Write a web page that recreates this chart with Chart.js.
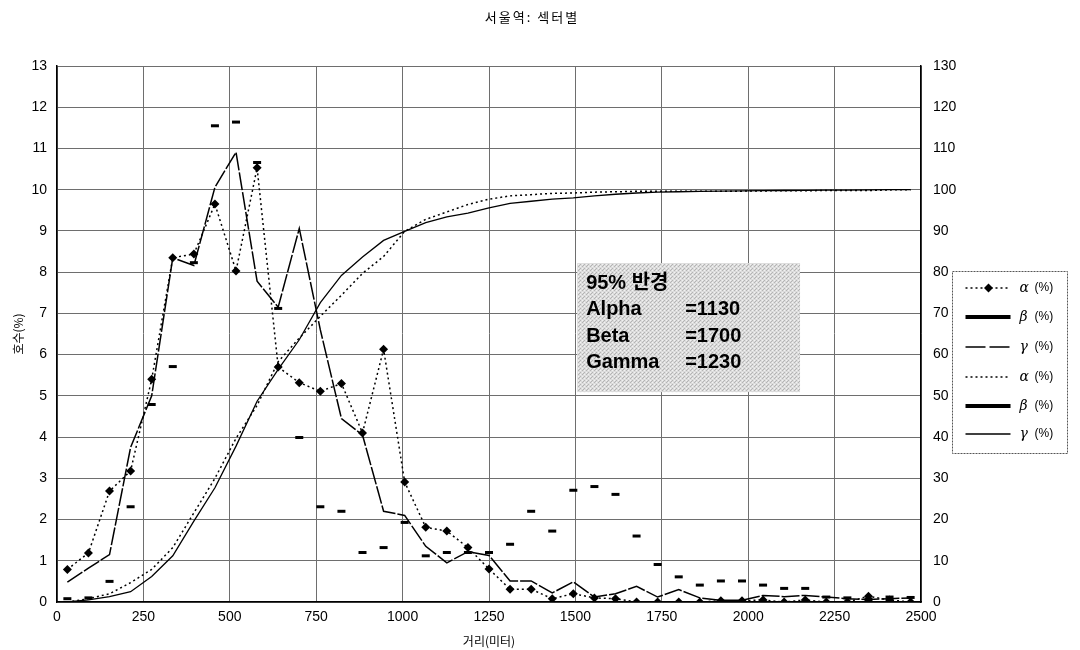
<!DOCTYPE html>
<html>
<head>
<meta charset="utf-8">
<script src="https://cdn.jsdelivr.net/npm/chart.js@4.4.0/dist/chart.umd.min.js"></script>
<style>
html, body { margin: 0; padding: 0; background: #fff; }
#wrap { width: 1080px; height: 650px; }
</style>
</head>
<body>
<div id="wrap"><canvas id="chart" width="1080" height="650"></canvas></div>
<script>
// sector midpoints (m)
var distance = [30, 91, 152, 213, 274, 335, 396, 457, 518, 579, 640, 701, 762, 823, 884, 945, 1006,
    1067, 1128, 1189, 1250, 1311, 1372, 1433, 1494, 1555, 1616, 1677, 1738, 1799, 1860, 1921, 1982,
    2043, 2104, 2165, 2226, 2287, 2348, 2409, 2470];

// share of households per sector (%), left axis
var alphaPct = [0.79, 1.19, 2.69, 3.18, 5.40, 8.35, 8.44, 9.65, 8.03, 10.53, 5.70, 5.32, 5.11, 5.30,
    4.10, 6.13, 2.91, 1.81, 1.72, 1.32, 0.80, 0.31, 0.31, 0.08, 0.20, 0.10, 0.08, 0, 0, 0, 0, 0.03,
    0.03, 0.05, 0, 0.05, 0, 0, 0.14, 0.05, 0];
var betaPct = [0.08, 0.10, 0.50, 2.31, 4.79, 5.71, 8.23, 11.55, 11.64, 10.66, 7.12, 3.99, 2.31, 2.20,
    1.20, 1.32, 1.93, 1.12, 1.20, 1.20, 1.20, 1.40, 2.20, 1.72, 2.71, 2.80, 2.61, 1.60, 0.91, 0.61,
    0.41, 0.51, 0.51, 0.41, 0.33, 0.33, 0.12, 0.10, 0.06, 0.12, 0.11];
var gammaPct = [0.48, 0.82, 1.15, 3.75, 5.00, 8.35, 8.16, 10.06, 10.91, 7.78, 7.15, 9.06, 6.60, 4.45,
    4.05, 2.20, 2.10, 1.35, 0.95, 1.22, 1.13, 0.51, 0.51, 0.22, 0.49, 0.12, 0.20, 0.38, 0.12, 0.30,
    0.10, 0.04, 0.04, 0.16, 0.13, 0.16, 0.12, 0.08, 0.06, 0.08, 0.10];

// cumulative share (%), right axis
var alphaCum = [0, 0.8, 2.0, 4.7, 7.9, 13.2, 21.6, 30.0, 39.7, 47.7, 58.3, 64.0, 69.3, 74.4, 79.7,
    83.8, 89.9, 92.8, 94.6, 96.4, 97.7, 98.5, 98.8, 99.1, 99.2, 99.4, 99.5, 99.6, 99.6, 99.6, 99.6,
    99.6, 99.65, 99.7, 99.75, 99.75, 99.8, 99.8, 99.8, 99.95, 100];
var gammaCum = [0, 0.5, 1.3, 2.5, 6.2, 11.2, 19.6, 27.7, 37.8, 48.7, 56.4, 63.6, 72.6, 79.2, 83.7,
    87.7, 89.9, 92.0, 93.4, 94.3, 95.6, 96.7, 97.2, 97.7, 98.0, 98.5, 98.9, 99.2, 99.4, 99.5, 99.6,
    99.65, 99.7, 99.75, 99.8, 99.85, 99.9, 99.9, 99.95, 100, 100];

var legendNames = ['α', 'β', 'γ', 'α', 'β', 'γ'];
var noteNames = ['95% 반경', 'Alpha', 'Beta', 'Gamma'];
var noteValues = ['', '=1130', '=1700', '=1230'];

var TICKFONT = { family: '"Liberation Sans", Arial, sans-serif', size: 14 };
var KRFONT = '"Noto Sans CJK KR", sans-serif';
var GRIDCOLOR = '#6e6e6e';

function toPoints(values) {
    var pts = [];
    for (var i = 0; i < values.length; i++) {
        pts.push({ x: distance[i], y: values[i] });
    }
    return pts;
}

// legend line styles: dash, width, marker
var legendStyles = [
    { dash: [2, 3], width: 1.5, diamond: true },
    { dash: [], width: 4 },
    { dash: [20, 4], width: 1.5 },
    { dash: [2, 3], width: 1.5 },
    { dash: [], width: 4 },
    { dash: [], width: 1.3 }
];

function stipple(ctx) {
    var pc = document.createElement('canvas');
    pc.width = 4; pc.height = 4;
    var p = pc.getContext('2d');
    p.fillStyle = '#dcdcdc'; p.fillRect(0, 0, 4, 4);
    p.fillStyle = '#b4b4b4'; p.fillRect(0, 0, 1, 1); p.fillRect(2, 2, 1, 1); p.fillRect(3, 1, 1, 1);
    p.fillStyle = '#f2f2f2'; p.fillRect(2, 0, 1, 1); p.fillRect(0, 2, 1, 1);
    return ctx.createPattern(pc, 'repeat');
}

var extras = {
    id: 'extras',
    afterDatasetsDraw: function (chart) {
        var ctx = chart.ctx;
        var xs = chart.scales.x, ys = chart.scales.y1;
        var l = xs.getPixelForValue(1505), r = xs.getPixelForValue(2150);
        var t = ys.getPixelForValue(82.2), b = ys.getPixelForValue(50.9);
        ctx.save();
        ctx.fillStyle = stipple(ctx);
        ctx.fillRect(l, t, r - l, b - t);
        ctx.fillStyle = '#000';
        ctx.textBaseline = 'middle';
        ctx.font = 'bold 20px "Liberation Sans", ' + KRFONT;
        for (var i = 0; i < noteNames.length; i++) {
            var y = t + 20 + i * 26.5;
            ctx.fillText(noteNames[i], l + 9, y);
            if (noteValues[i]) ctx.fillText(noteValues[i], l + 108, y);
        }
        ctx.restore();
    },
    afterDraw: function (chart) {
        var ctx = chart.ctx;
        var area = chart.chartArea;
        ctx.save();
        // title
        ctx.fillStyle = '#000';
        ctx.font = '13px ' + KRFONT;
        ctx.textAlign = 'center';
        ctx.textBaseline = 'middle';
        if ('letterSpacing' in ctx) ctx.letterSpacing = '2px';
        ctx.fillText('서울역: 섹터별', 532, 17);
        if ('letterSpacing' in ctx) ctx.letterSpacing = '0px';

        // legend box
        var bx = area.right + 31.5, by = 271.5, bw = 115, bh = 182;
        ctx.strokeStyle = '#555';
        ctx.lineWidth = 1;
        ctx.setLineDash([2, 1]);
        ctx.strokeRect(bx, by, bw, bh);
        var rowY = [288, 317, 347, 377, 406, 434];
        ctx.textAlign = 'left';
        for (var i = 0; i < legendNames.length; i++) {
            var st = legendStyles[i];
            var y = rowY[i];
            ctx.strokeStyle = '#000';
            ctx.lineWidth = st.width;
            ctx.setLineDash(st.dash);
            ctx.beginPath();
            ctx.moveTo(bx + 13, y);
            ctx.lineTo(bx + 58, y);
            ctx.stroke();
            ctx.setLineDash([]);
            if (st.diamond) {
                var cx = bx + 36;
                ctx.fillStyle = '#000';
                ctx.beginPath();
                ctx.moveTo(cx, y - 4.5); ctx.lineTo(cx + 4.5, y);
                ctx.lineTo(cx, y + 4.5); ctx.lineTo(cx - 4.5, y);
                ctx.closePath();
                ctx.fill();
            }
            ctx.fillStyle = '#000';
            ctx.font = 'italic 14px "DejaVu Serif", serif';
            ctx.fillText(legendNames[i], bx + 67, y);
            ctx.font = '12px "Liberation Sans", Arial, sans-serif';
            ctx.fillText('(%)', bx + 82, y);
        }
        ctx.restore();
    }
};

var datasets = [
    {
        label: 'α (%)', data: toPoints(alphaPct), yAxisID: 'y',
        borderColor: '#000', backgroundColor: '#000', borderWidth: 1.5, borderDash: [2, 3],
        pointStyle: 'rectRot', pointRadius: 4.5, pointBorderWidth: 0, tension: 0
    },
    {
        label: 'β (%)', data: toPoints(betaPct), yAxisID: 'y', showLine: false,
        borderColor: '#000', backgroundColor: '#000',
        pointStyle: 'line', pointRadius: 4, pointBorderWidth: 3
    },
    {
        label: 'γ (%)', data: toPoints(gammaPct), yAxisID: 'y',
        borderColor: '#000', borderWidth: 1.5, borderDash: [18, 2], pointRadius: 0, tension: 0
    },
    {
        label: 'α (%) cum', data: toPoints(alphaCum), yAxisID: 'y1',
        borderColor: '#000', borderWidth: 1.5, borderDash: [2, 3], pointRadius: 0, tension: 0
    },
    {
        label: 'γ (%) cum', data: toPoints(gammaCum), yAxisID: 'y1',
        borderColor: '#000', borderWidth: 1.3, pointRadius: 0, tension: 0
    }
];

var chart = new Chart(document.getElementById('chart'), {
    type: 'line',
    data: { datasets: datasets },
    options: {
        responsive: false,
        animation: false,
        devicePixelRatio: 1,
        layout: { padding: { top: 66, left: 0, right: 0, bottom: 0 } },
        plugins: {
            legend: { display: false },
            tooltip: { enabled: false },
            title: { display: false }
        },
        scales: {
            x: {
                type: 'linear', min: 0, max: 2500,
                ticks: { stepSize: 250, font: TICKFONT, color: '#000', padding: 7, maxRotation: 0,
                    callback: function (v) { return String(v); } },
                grid: { color: GRIDCOLOR, drawTicks: false },
                border: { color: '#000', width: 1.5 },
                title: { display: true, text: '거리(미터)', color: '#000',
                    font: { family: KRFONT, size: 12 }, padding: { top: 0, bottom: 1 } },
                afterFit: function (s) { s.height = 48; }
            },
            y: {
                position: 'left', min: 0, max: 13,
                ticks: { stepSize: 1, font: TICKFONT, color: '#000', padding: 10 },
                grid: { color: GRIDCOLOR, drawTicks: false },
                border: { color: '#000', width: 1.5 },
                title: { display: true, text: '호수(%)', color: '#000',
                    font: { family: KRFONT, size: 12 }, padding: { top: 11, bottom: 0 } },
                afterFit: function (s) { s.width = 57; }
            },
            y1: {
                position: 'right', min: 0, max: 130,
                ticks: { stepSize: 10, font: TICKFONT, color: '#000', padding: 12 },
                grid: { display: false, drawTicks: false },
                border: { color: '#000', width: 1.5 },
                afterFit: function (s) { s.width = 159; }
            }
        }
    },
    plugins: [extras]
});
</script>
</body>
</html>
